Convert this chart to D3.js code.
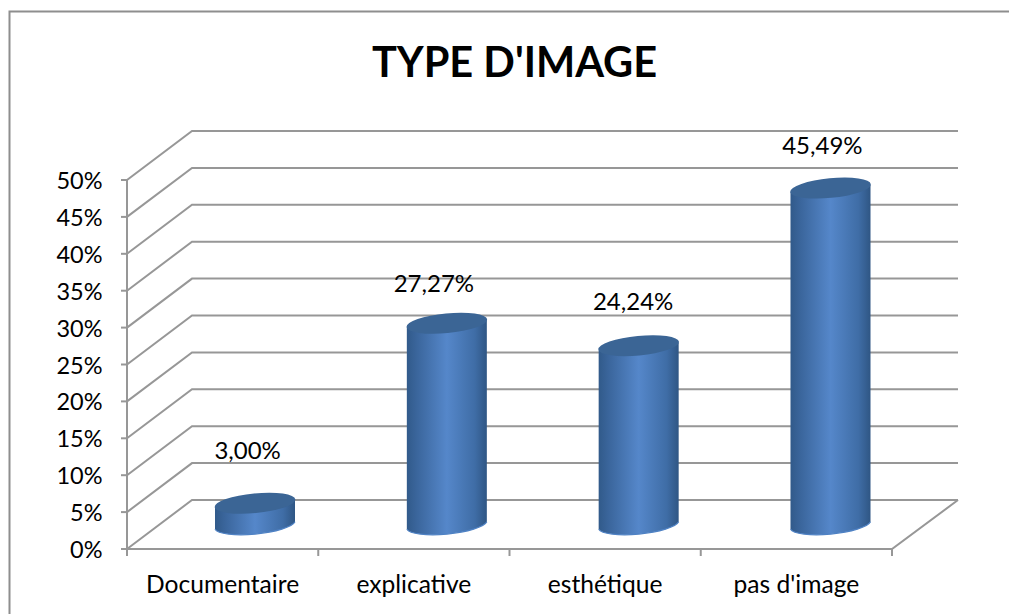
<!DOCTYPE html>
<html><head><meta charset="utf-8">
<script src="https://cdn.jsdelivr.net/npm/d3@7/dist/d3.min.js"></script>
<style>html,body{margin:0;padding:0;background:#fff;overflow:hidden}svg{display:block}text{font-family:Lato,"Open Sans",sans-serif;fill:#000}</style>
</head><body><script>
const categories = ["Documentaire","explicative","esthétique","pas d'image"];
const values = [3.00,27.27,24.24,45.49];
const valueLabels = ["3,00%","27,27%","24,24%","45,49%"];
const yTicks = [0,5,10,15,20,25,30,35,40,45,50];
const title = "TYPE D'IMAGE";

const W=1009,H=614;
const depthX=65, depthY=49, gridCol="#979797";
const x=d3.scaleBand().domain(categories).range([127,892]);
const xBar=d3.scalePoint().domain(categories).range([255,830.5]);
const y=d3.scaleLinear().domain([0,50]).range([549,180]);
const svg=d3.select("body").append("svg").attr("width",W).attr("height",H);

const defs=svg.append("defs");
const grad=defs.append("linearGradient").attr("id","side").attr("x1",0).attr("x2",1).attr("y1",0).attr("y2",0);
[[0,"#315a8a"],[.12,"#3a659b"],[.5,"#5587ca"],[.85,"#3f6da6"],[1,"#2f5684"]].forEach(s=>grad.append("stop").attr("offset",s[0]).attr("stop-color",s[1]));

// frame: left and top edges reach the picture's edges
svg.append("path").attr("d",`M9.5,${H}V11.5H${W}`).attr("fill","none").attr("stroke","#8e8e8e").attr("stroke-width",2);

// title
svg.append("text").attr("x",514.5).attr("y",77).attr("text-anchor","middle").attr("font-weight",700).attr("font-size",41.5).text(title);

// walls: gridlines
const g=svg.append("g").attr("fill","none").attr("stroke",gridCol).attr("stroke-width",2);
g.selectAll("path.grid").data(yTicks).join("path").attr("class","grid")
 .attr("d",t=>`M${x.range()[0]},${y(t)}L${x.range()[0]+depthX},${y(t)-depthY}H${x.range()[1]+depthX+1}`);
// floor and front axes
g.append("path").attr("d",`M127,${y(0)}H892L${892+depthX+1},${y(0)-depthY}`);
g.append("path").attr("d",`M127,${y(50)}V${y(0)}`);
g.selectAll("path.ty").data(yTicks).join("path").attr("class","ty").attr("d",t=>`M121,${y(t)}H127`);
const edges=categories.map(c=>x(c)).concat(x.range()[1]);
g.selectAll("path.tx").data(edges).join("path").attr("class","tx").attr("d",e=>`M${e},${y(0)}v7`);

// y labels
svg.selectAll("text.yl").data(yTicks).join("text").attr("class","yl")
 .attr("x",102.5).attr("y",t=>y(t)+9).attr("text-anchor","end").attr("font-size",23.5).text(t=>t+"%");
// x labels
svg.selectAll("text.xl").data(categories).join("text").attr("class","xl")
 .attr("x",c=>x(c)+x.bandwidth()/2).attr("y",593).attr("text-anchor","middle").attr("font-size",24.6).text(c=>c);

// cylinders
const rx=40.5, ry=9.8, rot=-5.5, hw=40, hs=3.7, baseY=525.5, stretch=1.005;
const barTop=v=>baseY+(y(v)-y(0))*stretch;
const bars=svg.selectAll("g.bar").data(values).join("g").attr("class","bar")
 .attr("transform",(v,i)=>`translate(${xBar(categories[i])},0)`);
bars.append("path").attr("fill","url(#side)").attr("d",v=>{
  const top=barTop(v), bot=baseY;
  return `M${-hw},${top+hs}V${bot+hs}A${rx},${ry} ${rot} 0 0 ${hw},${bot-hs}V${top-hs}A${rx},${ry} ${rot} 0 1 ${-hw},${top+hs}Z`;
});
bars.append("path").attr("fill","none").attr("stroke","#4f82c4").attr("stroke-width",1.2).attr("d",()=>
  `M${-hw},${baseY+hs}A${rx},${ry} ${rot} 0 0 ${hw},${baseY-hs}`);
bars.append("ellipse").attr("rx",rx).attr("ry",ry).attr("fill","#3b6595")
 .attr("transform",v=>`translate(0,${barTop(v)}) rotate(${rot})`);

// data labels (anchor per bar)
const labelDx=[25,20,28,26], labelDy=[-68,-55.5,-60.5,-59.5];
svg.selectAll("text.dl").data(valueLabels).join("text").attr("class","dl")
 .attr("x",(l,i)=>x(categories[i])+x.bandwidth()/2+labelDx[i])
 .attr("y",(l,i)=>y(values[i])+labelDy[i]).attr("text-anchor","middle").attr("font-size",24).text(l=>l);
</script></body></html>
